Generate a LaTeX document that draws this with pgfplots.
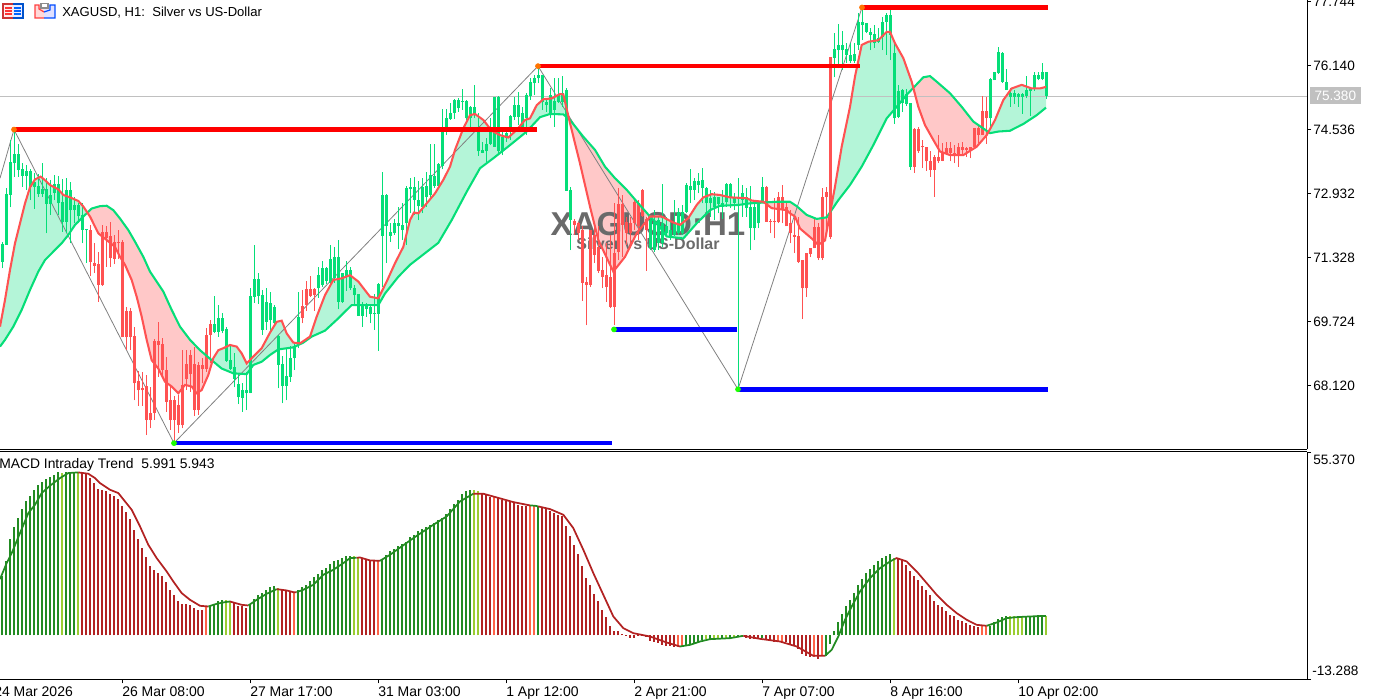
\documentclass[border=0pt]{standalone}
\usepackage{fontspec}
\setmainfont{Liberation Sans}
\usepackage{pgfplots}
\usepackage{pgfplotstable}
\pgfplotsset{compat=1.18}
\definecolor{cgreen}{HTML}{05DE78}
\definecolor{cred}{HTML}{FF5252}
\definecolor{fgreen}{HTML}{B4F5D8}
\definecolor{fred}{HTML}{FFC8C8}
\definecolor{mG}{HTML}{228B22}
\definecolor{mY}{HTML}{9ACD32}
\definecolor{mF}{HTML}{B22222}
\definecolor{mT}{HTML}{FF6347}
\definecolor{bid}{HTML}{C0C0C0}
\definecolor{wm}{HTML}{6A6A6A}

\pgfplotstableread{
i h t b l
0 71.73 71.67 71.23 71.06
1 73.07 72.92 71.65 71.65
2 74.28 73.73 72.91 72.59
3 74.54 73.93 73.69 73.36
4 74.19 73.93 73.53 73.36
5 73.69 73.55 73.38 73.11
6 73.65 73.51 73.38 73.02
7 73.54 73.51 73.11 72.77
8 73.44 73.23 73.11 72.56
9 73.43 73.12 72.92 72.86
10 73.69 73.04 72.92 72.86
11 73.32 73.04 72.67 71.94
12 73.27 72.90 72.67 72.40
13 73.40 73.17 72.96 72.77
14 73.38 73.17 72.69 72.40
15 73.31 72.73 72.23 71.98
16 73.32 73.02 72.23 71.94
17 73.23 73.02 72.52 71.69
18 72.86 72.65 72.52 72.19
19 72.69 72.65 72.37 72.19
20 72.71 72.40 72.03 71.69
21 72.04 72.04 72.01 71.20
53 70.37 69.67 69.47 69.43
54 70.14 69.81 69.47 69.35
55 69.93 69.81 69.50 69.43
56 69.58 69.54 68.75 68.72
57 69.14 68.76 68.55 68.51
58 68.93 68.60 68.30 68.08
59 68.43 68.16 67.83 67.66
60 68.18 68.00 67.82 67.47
61 68.47 68.00 67.93 67.51
62 70.58 70.37 67.93 67.93
63 71.65 70.79 70.35 70.20
64 70.95 70.79 70.37 70.18
65 70.52 70.39 69.52 69.39
66 70.56 70.23 69.72 69.52
67 70.48 70.20 69.77 69.43
68 70.14 70.08 69.70 69.64
69 69.39 69.37 68.64 68.05
70 68.87 68.66 68.11 67.68
71 69.06 68.36 68.11 67.75
72 69.11 68.81 68.35 68.22
73 69.18 69.11 68.81 68.51
74 70.48 69.85 69.14 69.06
79 71.10 70.89 70.56 70.33
80 71.24 71.06 70.64 70.59
81 71.10 71.08 70.75 70.67
82 71.65 71.29 70.69 70.62
83 71.60 71.35 70.81 70.70
84 71.77 71.34 70.23 70.03
85 70.94 70.94 70.23 70.20
86 71.25 71.02 70.85 70.50
87 71.10 71.02 70.56 70.52
88 70.64 70.56 70.39 70.18
89 70.43 70.43 69.87 69.87
90 70.23 70.14 69.87 69.60
91 70.20 70.16 70.04 69.85
92 70.14 70.10 69.92 69.68
93 70.43 69.93 69.91 69.52
94 70.69 70.67 69.92 69.00
95 73.48 72.90 71.87 70.60
96 72.92 72.90 72.11 71.19
97 72.19 71.98 71.88 71.73
98 72.29 72.19 71.94 71.90
99 72.61 72.21 72.12 71.54
100 72.69 72.16 72.02 71.77
101 73.12 73.07 72.19 71.65
102 73.32 73.09 73.04 72.44
103 73.34 73.11 72.77 72.40
104 73.26 72.77 72.62 72.27
105 73.32 73.09 72.61 72.44
106 73.48 73.12 72.84 72.61
107 74.18 73.40 72.90 72.82
108 74.18 73.38 73.12 73.07
109 73.71 73.68 73.12 73.11
110 75.05 74.49 73.63 73.54
111 75.05 74.82 74.57 74.40
112 75.20 74.95 74.80 74.78
113 75.30 75.28 74.95 74.80
114 75.32 75.28 75.07 74.99
115 75.55 75.26 75.25 75.03
116 75.28 75.26 74.82 74.78
117 75.13 75.11 74.82 74.57
118 75.66 75.11 74.90 74.82
119 74.95 74.57 73.99 73.88
120 74.24 74.03 73.96 73.94
121 74.34 74.18 73.99 73.73
122 74.82 74.57 74.18 74.15
123 75.36 75.35 74.11 74.11
124 75.38 75.35 73.99 73.96
125 74.57 74.36 73.99 73.90
126 74.61 74.45 74.34 74.24
127 74.90 74.88 74.57 74.28
128 75.36 75.15 74.86 74.78
129 75.47 75.15 74.86 74.65
130 75.11 74.95 74.57 74.49
131 75.45 75.41 74.82 74.40
132 75.82 75.72 75.38 75.28
133 75.91 75.82 75.70 75.41
134 76.13 75.91 75.82 75.70
135 75.91 75.91 75.24 75.03
136 75.28 75.24 75.15 74.99
137 75.57 75.41 74.90 74.82
138 75.82 75.26 75.03 74.61
139 75.82 75.41 75.24 75.20
140 75.88 75.45 75.24 75.11
141 75.57 75.53 73.01 73.01
142 73.11 73.03 72.27 71.52
162 72.40 72.27 71.56 71.52
163 72.52 72.23 71.52 71.48
164 72.36 72.27 71.69 71.52
165 73.18 72.19 71.69 71.60
166 72.36 72.11 71.94 71.86
167 72.19 72.02 71.86 71.77
168 72.77 72.19 71.90 71.86
169 72.57 72.48 71.94 71.90
170 72.65 72.48 71.94 71.90
171 73.19 73.15 72.48 72.44
172 73.54 73.12 73.03 72.69
173 73.32 73.26 73.03 72.77
174 73.44 73.26 73.15 72.94
175 73.57 73.28 73.07 72.69
176 73.11 73.07 72.69 72.44
177 73.03 72.82 72.69 72.36
178 72.98 72.84 72.61 72.27
179 72.86 72.84 72.67 72.44
180 73.03 72.69 72.61 72.31
181 73.19 73.18 72.73 72.61
182 73.19 73.18 72.82 72.57
183 72.94 72.84 72.69 72.52
184 73.32 72.86 72.79 68.05
185 73.15 72.94 72.77 72.36
186 73.07 72.86 72.57 72.36
187 73.12 72.59 72.06 71.52
188 72.77 72.59 72.06 71.77
189 72.73 72.69 72.19 72.06
190 73.34 73.11 72.73 72.73
208 76.95 76.55 76.33 75.85
209 77.19 76.66 76.53 76.07
210 77.02 76.66 76.53 76.03
211 76.72 76.55 76.41 76.20
212 76.70 76.41 76.27 76.20
213 76.72 76.43 76.27 76.20
214 77.47 77.24 76.66 76.53
215 77.62 77.24 77.16 76.78
216 77.20 77.20 76.99 76.95
217 77.08 76.99 76.91 76.53
218 77.16 76.93 76.70 76.58
219 77.08 76.83 76.74 76.70
220 77.37 77.24 76.87 76.53
221 77.45 77.41 77.24 76.41
222 77.54 77.41 76.91 76.28
223 76.70 76.45 74.82 74.68
224 75.66 75.51 74.85 74.82
225 75.55 75.53 75.20 74.99
226 75.55 75.43 75.18 75.13
227 75.20 75.20 73.61 73.53
247 75.82 75.80 74.82 74.53
248 75.97 75.97 75.78 75.78
249 76.62 76.49 75.95 75.93
250 76.49 76.47 75.74 75.71
251 76.05 75.74 75.53 75.53
252 75.57 75.45 75.35 75.11
253 75.53 75.45 75.36 75.18
254 75.45 75.43 75.36 75.11
255 75.45 75.43 75.36 74.93
256 75.88 75.53 75.39 75.32
257 75.57 75.57 75.51 74.88
258 75.99 75.91 75.57 75.51
259 75.97 75.91 75.80 75.77
260 76.20 75.99 75.80 75.77
261 75.99 75.99 75.38 75.31
}\greencandles

\pgfplotstableread{
i h t b l
22 72.15 72.02 71.22 70.87
23 71.69 71.19 71.13 70.94
24 71.48 71.17 70.64 70.23
25 72.15 71.96 70.64 70.62
26 72.12 71.98 71.81 71.10
27 72.23 71.87 71.31 71.10
28 71.90 71.73 71.29 71.17
29 72.03 71.71 71.69 71.29
30 71.77 71.71 69.33 69.33
31 70.08 70.00 69.33 69.01
32 70.06 70.00 69.33 69.01
33 69.60 69.37 68.18 67.75
34 68.50 68.24 68.00 67.62
35 68.47 68.05 68.00 67.62
36 68.39 68.10 67.26 66.88
37 68.08 67.44 67.26 67.05
38 69.28 69.23 67.43 67.26
39 69.72 69.25 69.14 68.35
40 69.31 69.16 68.51 68.35
41 68.85 68.51 67.72 67.47
42 68.10 67.75 67.26 67.01
43 67.85 67.75 67.26 66.68
44 67.89 67.64 67.13 66.94
45 69.01 68.14 67.13 67.05
46 69.01 68.66 68.28 68.01
47 69.01 68.89 68.41 67.97
48 69.10 68.66 67.51 67.36
49 68.72 68.64 67.51 67.39
50 68.81 68.64 68.53 68.18
51 69.56 69.39 68.55 68.47
52 69.77 69.67 69.39 68.68
75 70.52 70.12 69.81 69.68
76 70.75 70.54 70.14 70.00
77 70.87 70.55 70.37 70.35
78 70.56 70.55 70.40 70.00
143 72.29 72.26 72.15 71.90
144 72.23 72.19 71.94 71.77
145 72.11 72.02 70.70 70.25
146 70.85 70.73 70.64 69.63
147 72.02 72.02 70.64 70.59
148 72.19 71.90 71.40 71.19
149 72.11 71.60 71.00 70.94
150 71.35 71.02 70.85 70.56
151 71.69 70.89 70.60 70.23
152 71.90 70.85 70.10 70.06
153 72.69 71.44 70.10 69.63
154 73.07 72.67 71.48 71.27
155 72.90 72.67 72.15 71.35
156 72.36 72.23 71.94 71.65
157 72.36 72.19 71.94 71.65
158 72.77 72.73 72.19 72.02
159 72.77 72.69 72.11 71.77
160 73.04 73.03 72.37 72.36
161 72.36 72.29 72.02 71.00
191 73.12 73.11 72.23 72.23
192 72.29 72.26 72.22 71.94
193 72.82 72.26 72.23 71.81
194 72.98 72.84 72.23 72.19
195 73.15 72.84 72.52 72.19
196 72.69 72.59 72.11 72.11
197 72.52 72.19 71.94 71.69
198 72.36 71.90 71.85 71.44
199 72.36 71.87 71.23 71.19
200 71.27 71.27 70.56 69.79
201 71.45 71.44 70.56 70.34
202 71.56 71.56 71.42 71.34
203 72.31 72.09 71.56 71.56
204 72.19 72.09 71.31 71.27
205 73.08 72.84 71.31 71.27
206 73.11 72.98 72.84 71.90
207 76.35 76.35 71.84 71.79
228 74.57 74.55 73.61 73.46
229 74.61 74.55 73.99 73.96
230 74.28 74.13 74.09 73.57
231 74.11 74.11 73.74 73.51
232 73.99 73.74 73.53 73.36
233 73.90 73.86 73.53 72.86
234 74.40 73.86 73.74 73.69
235 74.20 73.96 73.76 73.74
236 74.24 74.07 73.93 73.90
237 74.24 74.07 73.94 73.74
238 74.15 73.94 73.90 73.69
239 74.20 74.09 73.93 73.61
240 74.24 74.09 74.03 73.90
241 74.11 74.07 74.03 73.86
242 74.11 74.09 73.99 73.82
243 74.57 74.57 74.11 74.07
244 74.65 74.57 74.40 74.20
245 75.38 75.01 74.40 74.40
246 75.36 75.01 74.82 74.18
}\redcandles

\pgfplotstableread{
i p
-0.5 69.60
0.75 70.27
2 71.02
3.25 71.69
4.5 72.19
5.75 72.69
7 73.09
8.25 73.29
9.67 73.36
10.75 73.27
12 73.15
14.08 73.04
15.33 72.90
17 72.84
19.08 72.75
20.33 72.61
22 72.36
24.08 71.94
26.17 71.77
28.25 71.60
29.5 71.35
30.75 71.15
32.42 70.77
33.67 70.35
34.92 69.85
36.17 69.27
37.42 68.76
39.08 68.55
40.75 68.22
42.42 68.10
44.08 67.93
45.75 68.14
47.42 68.10
48.67 67.93
49.92 68.01
51.58 68.39
52.83 68.81
54.08 69.01
55.33 69.06
57 69.14
58.67 69.10
59.92 68.93
61.17 68.68
62.83 68.85
64.92 69.06
67 69.45
68.67 69.72
69.92 69.75
71.17 69.43
72.83 69.20
74.5 69.18
77 69.35
78.67 69.85
80.75 70.39
82.83 70.77
84.92 70.81
87 70.89
89.08 70.73
92 70.35
94.08 70.31
96.17 70.73
98.25 71.19
100.33 71.60
102 72.27
103 72.46
104.08 72.44
106.17 72.69
108.25 72.94
110.33 73.28
112 73.61
113.25 74.03
115.33 74.57
117 74.90
118.25 74.93
120.33 74.78
122.42 74.51
124.5 74.40
126.58 74.34
128.67 74.53
130.75 74.78
132 74.82
133.67 75.15
135.33 75.30
137.42 75.32
139.5 75.43
140.33 75.42
142 74.70
144.5 73.69
147 72.61
149.08 71.77
152.83 70.98
155.75 71.35
158.67 71.94
162 72.36
164.92 72.36
167.83 72.21
169.5 72.15
171.58 72.32
173.67 72.65
175.33 72.84
177.42 72.92
179.5 72.90
182 72.84
186.17 72.82
187.42 72.76
190.33 72.73
192.42 72.57
196.17 72.52
197 72.44
198.25 72.36
199.5 72.06
202.42 71.81
204.08 71.65
205.75 71.76
207 72.44
208.25 73.11
209.92 74.11
212 75.11
213.25 75.87
214.92 76.66
216.58 76.74
219.08 76.78
221.17 76.99
222 76.99
223.25 76.70
225.33 76.33
227.42 75.74
229.08 75.11
230.75 74.65
232.83 74.28
234.5 73.99
237 73.90
240.33 73.90
243.67 74.11
246.17 74.40
248.25 74.78
250.33 75.28
252.42 75.57
254.92 75.66
257.42 75.57
259.5 75.57
261 75.61
}\fastma

\pgfplotstableread{
i p
-0.5 69.10
0.75 69.27
2.83 69.60
4.92 70.02
7 70.52
9.08 70.98
10.75 71.27
12.83 71.48
14.92 71.69
16.58 71.90
18.25 72.15
20.33 72.36
22.42 72.56
24.5 72.62
26.17 72.63
27.83 72.52
29.5 72.31
31.58 72.02
33.25 71.73
35.33 71.35
37 70.98
40.33 70.48
42.42 70.02
44.5 69.60
47 69.27
49.5 69.01
52.42 68.76
54.92 68.55
57.83 68.43
61.17 68.41
62.83 68.64
64.92 68.72
67 68.89
69.08 69.03
72.83 69.08
75.33 69.20
77.42 69.35
80.75 69.50
83.67 69.77
87.42 70.14
94.08 70.14
95.75 70.43
99.08 70.85
102 71.15
109.08 71.70
112.42 72.27
116.17 72.98
119.5 73.57
122.83 73.82
127 74.15
131.17 74.49
134.5 74.85
137 74.93
140.33 74.92
142 74.78
145.33 74.36
148.25 74.03
150.75 73.61
153.25 73.32
156.17 73.03
159.08 72.69
162 72.36
164.08 72.15
166.17 71.86
170.33 71.81
173.67 72.19
177 72.52
179.5 72.63
184.08 72.65
187 72.69
190.33 72.71
193.67 72.73
197 72.73
198.67 72.62
201.17 72.40
203.67 72.30
206.17 72.34
209.08 72.77
212 73.15
214.92 73.61
217.83 74.15
221.17 74.82
223.67 75.11
226.17 75.41
228.25 75.63
230.33 75.85
232 75.88
233.67 75.74
237 75.45
239.92 75.11
242.83 74.74
247 74.45
249.08 74.49
252 74.51
255.33 74.68
258.67 74.90
261 75.09
}\slowma

\begin{document}
\begin{tikzpicture}
\clip (0,0) rectangle (1031.25pt,525pt);

\begin{axis}[
  at={(0pt,187.875pt)}, anchor=south west, scale only axis,
  width=980.25pt, height=337.125pt,
  xmin=-0.5, xmax=326.25, ymin=66.521, ymax=77.787,
  axis x line*=bottom, axis y line*=right,
  xtick=\empty,
  ytick={68.12,69.724,71.328,72.932,74.536,76.14,77.744},
  yticklabels={68.120,69.724,71.328,72.932,74.536,76.140,77.744},
  tick align=outside, major tick length=3pt,
  axis line style={line width=0.75pt},
  tick style={line width=0.75pt,black},
  yticklabel style={font=\fontsize{10.2}{12}\selectfont, anchor=west, inner xsep=0pt, xshift=1.5pt},
]
% bands between the two moving averages, one closed polygon per regime
\addplot[fill=fgreen, draw=none, forget plot] coordinates {(-0.5,69.60)(0.75,70.27)(2,71.02)(3.25,71.69)(4.5,72.19)(5.75,72.69)(7,73.09)(8.25,73.29)(9.67,73.36)(10.75,73.27)(12,73.15)(14.08,73.04)(15.33,72.90)(17,72.84)(19.08,72.75)(20.33,72.61)(21.25,72.47)(20.33,72.36)(18.25,72.15)(16.58,71.90)(14.92,71.69)(12.83,71.48)(10.75,71.27)(9.08,70.98)(7,70.52)(4.92,70.02)(2.83,69.60)(0.75,69.27)(-0.5,69.10)};
\addplot[fill=fred, draw=none, forget plot] coordinates {(21.25,72.47)(22.42,72.56)(24.5,72.62)(26.17,72.63)(27.83,72.52)(29.5,72.31)(31.58,72.02)(33.25,71.73)(35.33,71.35)(37,70.98)(40.33,70.48)(42.42,70.02)(44.5,69.60)(47,69.27)(49.5,69.01)(52.5,68.76)(51.58,68.39)(49.92,68.01)(48.67,67.93)(47.42,68.10)(45.75,68.14)(44.08,67.93)(42.42,68.10)(40.75,68.22)(39.08,68.55)(37.42,68.76)(36.17,69.27)(34.92,69.85)(33.67,70.35)(32.42,70.77)(30.75,71.15)(29.5,71.35)(28.25,71.60)(26.17,71.77)(24.08,71.94)(22,72.36)};
\addplot[fill=fgreen, draw=none, forget plot] coordinates {(52.5,68.76)(52.83,68.81)(54.08,69.01)(55.33,69.06)(57,69.14)(58.67,69.10)(59.92,68.93)(61.17,68.68)(62.83,68.85)(64.92,69.06)(67,69.45)(68.67,69.72)(69.92,69.75)(71.17,69.43)(72.83,69.20)(74.5,69.18)(77,69.35)(78.67,69.85)(80.75,70.39)(82.83,70.77)(84.92,70.81)(87,70.89)(89.08,70.73)(92,70.35)(94.08,70.31)(96.17,70.73)(98.25,71.19)(100.33,71.60)(102,72.27)(103,72.46)(104.08,72.44)(106.17,72.69)(108.25,72.94)(110.33,73.28)(112,73.61)(113.25,74.03)(115.33,74.57)(117,74.90)(118.25,74.93)(120.33,74.78)(122.42,74.51)(124.5,74.40)(126.58,74.34)(128.67,74.53)(130.75,74.78)(132,74.82)(133.67,75.15)(135.33,75.30)(137.42,75.32)(139.5,75.43)(140.33,75.42)(141.75,74.82)(140.33,74.92)(137,74.93)(134.5,74.85)(131.17,74.49)(127,74.15)(122.83,73.82)(119.5,73.57)(116.17,72.98)(112.42,72.27)(109.08,71.70)(102,71.15)(99.08,70.85)(95.75,70.43)(94.08,70.14)(87.42,70.14)(83.67,69.77)(80.75,69.50)(77.42,69.35)(75.33,69.20)(72.83,69.08)(69.08,69.03)(67,68.89)(64.92,68.72)(62.83,68.64)(61.17,68.41)(57.83,68.43)(54.92,68.55)};
\addplot[fill=fred, draw=none, forget plot] coordinates {(141.75,74.82)(142,74.78)(145.33,74.36)(148.25,74.03)(150.75,73.61)(153.25,73.32)(156.17,73.03)(159.08,72.69)(161.5,72.38)(158.67,71.94)(155.75,71.35)(152.83,70.98)(149.08,71.77)(147,72.61)(144.5,73.69)(142,74.70)};
\addplot[fill=fgreen, draw=none, forget plot] coordinates {(161.5,72.38)(164.92,72.36)(167.83,72.21)(169.5,72.15)(171.58,72.32)(173.67,72.65)(175.33,72.84)(177.42,72.92)(179.5,72.90)(182,72.84)(186.17,72.82)(187.42,72.76)(190.33,72.73)(190.8,72.71)(187,72.69)(184.08,72.65)(179.5,72.63)(177,72.52)(173.67,72.19)(170.33,71.81)(166.17,71.86)(164.08,72.15)(162,72.36)};
\addplot[fill=fred, draw=none, forget plot] coordinates {(190.8,72.71)(193.67,72.73)(197,72.73)(198.67,72.62)(201.17,72.40)(203.67,72.30)(206.17,72.34)(207.1,72.46)(205.75,71.76)(204.08,71.65)(202.42,71.81)(199.5,72.06)(198.25,72.36)(197,72.44)(196.17,72.52)(192.42,72.57)};
\addplot[fill=fgreen, draw=none, forget plot] coordinates {(207.1,72.46)(208.25,73.11)(209.92,74.11)(212,75.11)(213.25,75.87)(214.92,76.66)(216.58,76.74)(219.08,76.78)(221.17,76.99)(222,76.99)(223.25,76.70)(225.33,76.33)(227.42,75.74)(227.6,75.58)(226.17,75.41)(223.67,75.11)(221.17,74.82)(217.83,74.15)(214.92,73.61)(212,73.15)(209.08,72.77)};
\addplot[fill=fred, draw=none, forget plot] coordinates {(227.6,75.58)(228.25,75.63)(230.33,75.85)(232,75.88)(233.67,75.74)(237,75.45)(239.92,75.11)(242.83,74.74)(246.6,74.45)(246.17,74.40)(243.67,74.11)(240.33,73.90)(237,73.90)(234.5,73.99)(232.83,74.28)(230.75,74.65)(229.08,75.11)};
\addplot[fill=fgreen, draw=none, forget plot] coordinates {(246.6,74.45)(248.25,74.78)(250.33,75.28)(252.42,75.57)(254.92,75.66)(257.42,75.57)(259.5,75.57)(261,75.61)(261,75.09)(258.67,74.90)(255.33,74.68)(252,74.51)(249.08,74.49)};

\node[font=\fontsize{24.8}{26}\selectfont\bfseries, text=wm] at (axis cs:161.5,72.17) {XAGUSD:H1};
\node[font=\fontsize{12}{14}\selectfont\bfseries, text=wm] at (axis cs:161.5,71.67) {Silver vs US-Dollar};

% bid line
\addplot[bid, line width=0.75pt, forget plot] coordinates {(-0.5,75.38)(326.25,75.38)};

% zigzag
\addplot[black!50, line width=0.6pt, forget plot] coordinates {(-0.5,73.32)(3,74.54)(43,66.68)(134,76.13)(184,68.03)(215,77.60)};

% candles: wicks and bodies
\addplot[draw=none, mark=none, forget plot, error bars/.cd, y dir=plus, y explicit, error mark=none,
  error bar style={cgreen, line width=0.75pt}]
  table[x=i, y=l, y error plus expr=\thisrow{h}-\thisrow{l}] {\greencandles};
\addplot[draw=none, mark=none, forget plot, error bars/.cd, y dir=plus, y explicit, error mark=none,
  error bar style={cgreen, line width=2.25pt}]
  table[x=i, y=b, y error plus expr=\thisrow{t}-\thisrow{b}] {\greencandles};
\addplot[draw=none, mark=none, forget plot, error bars/.cd, y dir=plus, y explicit, error mark=none,
  error bar style={cred, line width=0.75pt}]
  table[x=i, y=l, y error plus expr=\thisrow{h}-\thisrow{l}] {\redcandles};
\addplot[draw=none, mark=none, forget plot, error bars/.cd, y dir=plus, y explicit, error mark=none,
  error bar style={cred, line width=2.25pt}]
  table[x=i, y=b, y error plus expr=\thisrow{t}-\thisrow{b}] {\redcandles};

% moving averages
\addplot[cgreen, line width=1.55pt, forget plot] table[x=i,y=p] {\slowma};
\addplot[cred, line width=1.55pt, forget plot] table[x=i,y=p] {\fastma};

% pivots
\addplot[red, line width=3.4pt, forget plot] coordinates {(3,74.54)(133.67,74.54)};
\addplot[red, line width=3.4pt, forget plot] coordinates {(134,76.13)(214.6,76.13)};
\addplot[red, line width=3.4pt, forget plot] coordinates {(215,77.60)(261.6,77.60)};
\addplot[blue, line width=3.4pt, forget plot] coordinates {(43,66.68)(152.6,66.68)};
\addplot[blue, line width=3.4pt, forget plot] coordinates {(153,69.53)(183.7,69.53)};
\addplot[blue, line width=3.4pt, forget plot] coordinates {(184,68.03)(261.6,68.03)};
\addplot[only marks, mark=*, mark size=1.9pt, mark options={draw=orange!90!red, fill=orange!90!red}, forget plot]
  coordinates {(3,74.54)(134,76.13)(215,77.60)};
\addplot[only marks, mark=*, mark size=1.9pt, mark options={draw=green!85!lime, fill=green!85!lime}, forget plot]
  coordinates {(43,66.68)(153,69.53)(184,68.03)};
\addplot[only marks, mark=triangle*, mark size=2.4pt, mark options={draw=bid, fill=bid, rotate=180}, forget plot]
  coordinates {(261,77.80)};
\end{axis}

\begin{axis}[
  at={(0pt,15.47pt)}, anchor=south west, scale only axis,
  width=980.25pt, height=170.85pt,
  xmin=-0.5, xmax=326.25, ymin=-13.288, ymax=55.70,
  axis x line*=bottom, axis y line*=right,
  xtick={30,62,94,126,158,190,222,254},
  xticklabels={26 Mar 08:00,27 Mar 17:00,31 Mar 03:00,1 Apr 12:00,2 Apr 21:00,7 Apr 07:00,8 Apr 16:00,10 Apr 02:00},
  ytick={-13.288,55.37}, yticklabels={,},
  tick align=outside, major tick length=3pt,
  axis line style={line width=0.75pt},
  tick style={line width=0.75pt,black},
  xticklabel style={font=\fontsize{10.5}{12}\selectfont, anchor=north west, inner xsep=0pt, inner ysep=0pt, yshift=-2.5pt},
]
\addplot[ycomb, mG, line width=2.2pt, forget plot] coordinates {
(0,17.88)(1,22.42)(2,29.29)(3,32.83)(4,35.55)(5,38.38)(6,40.60)(7,42.32)(8,44.14)(9,45.45)(10,46.46)(11,47.37)(12,47.98)(13,48.68)(14,49.49)(16,49.49)(17,49.49)(18,49.49)
(52,8.99)(53,9.60)(54,10.50)(55,10.81)
(62,9.29)(63,11.11)(64,12.32)(65,12.83)(66,13.64)(67,14.54)(68,15.05)
(74,13.64)(75,14.65)(76,15.35)(77,16.56)(78,17.68)(79,18.69)(80,19.90)(81,20.40)(82,21.72)(83,22.42)(84,22.73)(85,23.43)(86,23.94)(87,23.94)
(95,23.13)(96,24.44)(97,25.45)(98,26.16)(99,26.97)(100,27.67)(101,28.28)(102,29.80)(103,30.50)(104,31.51)(105,32.22)(106,32.83)(107,33.53)(108,34.04)(109,34.85)(110,35.55)(111,36.87)(112,38.28)(113,39.90)(114,41.11)(115,42.93)(116,43.63)(117,43.94)
(134,39.29)
(171,-2.83)(172,-2.83)(173,-2.63)(174,-2.12)(175,-1.31)(177,-1.01)(180,-0.81)(182,-0.61)(184,-0.30)(190,-0.81)
(206,-6.36)(207,-2.53)(208,1.21)(209,4.04)(210,6.57)(211,8.99)(212,10.81)(213,12.83)(214,15.35)(215,17.07)(216,18.89)(217,20.20)(218,21.41)(219,22.42)(220,23.43)(221,24.14)(222,24.64)
(247,2.93)(248,4.04)(249,4.95)(250,5.56)(251,5.76)(256,5.76)(257,5.76)(258,5.96)(259,6.06)(260,6.26)
};
\addplot[ycomb, mY, line width=2.2pt, forget plot] coordinates {
(15,49.19)(19,49.49)(56,10.81)(57,10.30)(69,14.34)(88,24.14)(89,23.74)(118,44.14)(119,43.63)
(176,-1.01)(178,-0.81)(179,-0.81)(181,-0.81)(183,-0.61)(185,-0.30)
(223,23.43)(252,5.96)(253,5.96)(254,5.56)(255,5.56)(261,5.99)
};
\addplot[ycomb, mF, line width=2.2pt, forget plot] coordinates {
(20,49.39)(21,48.99)(22,47.67)(23,46.16)(24,44.44)(25,43.94)(26,43.63)(27,42.93)(28,42.12)(29,41.31)(30,39.09)(31,37.27)(32,35.25)(33,32.02)(34,29.19)(35,26.46)(36,23.74)(37,20.91)(38,19.90)(39,18.89)(40,17.88)(41,16.06)(42,13.84)(43,12.32)(44,10.50)(45,9.60)(46,9.60)(47,9.29)(48,8.28)(49,7.78)(50,7.78)
(58,9.80)(59,8.99)(60,8.79)(61,8.28)
(70,13.84)(71,13.53)(72,13.33)
(90,23.43)(91,23.13)(92,22.73)(93,22.62)
(120,42.93)(121,42.82)(122,41.92)(124,41.61)(125,40.91)(126,40.60)(127,40.30)(128,40.30)(129,39.59)(130,39.29)(131,39.09)
(135,38.89)(136,38.28)(137,37.57)(138,37.07)(139,36.56)(140,36.06)(141,33.23)(142,30.20)(143,27.47)(144,24.75)(145,21.11)(146,17.37)(147,15.35)(148,12.63)(149,10.30)(150,7.78)(151,5.45)(152,2.73)(153,1.41)(154,1.41)(155,0.51)(156,0.20)(157,-0.61)(158,-0.61)(159,-0.10)(160,-0.05)(161,-0.51)(162,-1.62)(163,-2.02)(164,-2.32)(165,-2.83)(166,-3.13)(167,-3.13)(168,-3.54)
(186,-0.81)(187,-1.01)(188,-1.11)(189,-1.11)(191,-1.11)(192,-1.52)(193,-1.82)(196,-2.12)(197,-2.53)(198,-2.83)(199,-4.04)(200,-5.56)(201,-6.36)(202,-6.57)(204,-7.17)
(224,23.43)(225,22.93)(226,21.41)(227,19.39)(228,18.08)(229,16.67)(230,15.05)(231,13.64)(232,12.12)(233,10.50)(234,9.29)(235,8.59)(236,7.47)(237,6.26)(238,5.76)(239,4.75)(240,4.24)(241,3.74)(242,3.23)(243,2.73)(244,2.53)
};
\addplot[ycomb, mT, line width=2.2pt, forget plot] coordinates {
(51,8.59)(73,13.03)(94,22.42)(123,42.12)(132,39.09)(133,39.09)(169,-3.54)(170,-3.03)(194,-2.12)(195,-2.12)(203,-6.57)(205,-6.36)(245,2.73)(246,2.73)
};

% signal line
\addplot[sharp plot, mG, line width=1.3pt, forget plot] coordinates {(-0.5,17.07)(1.17,21.92)(2.5,25.15)(4.5,31.01)(6.58,37.07)(8.25,39.59)(9.92,43.13)(12,45.35)(14.5,47.67)(16.58,49.19)(19.08,49.39)};
\addplot[sharp plot, mF, line width=1.3pt, forget plot] coordinates {(19.08,49.39)(21.58,48.99)(23.25,47.67)(24.5,46.16)(27,44.14)(29.08,43.13)(30.75,40.60)(32.42,38.08)(34.5,33.03)(36.58,27.47)(38.67,23.43)(41.17,19.39)(42.83,16.36)(44.92,12.83)(47,10.81)(49.5,8.99)(51.58,8.79)};
\addplot[sharp plot, mG, line width=1.3pt, forget plot] coordinates {(51.58,8.79)(53.67,9.60)(55.75,10.10)(57,10.30)};
\addplot[sharp plot, mF, line width=1.3pt, forget plot] coordinates {(57,10.30)(57.83,10.00)(59.92,9.29)(61.58,9.09)};
\addplot[sharp plot, mG, line width=1.3pt, forget plot] coordinates {(61.58,9.09)(63.67,10.81)(66.17,12.63)(68.67,14.04)};
\addplot[sharp plot, mF, line width=1.3pt, forget plot] coordinates {(68.67,14.04)(71.17,13.64)(72.83,13.13)(73.67,13.13)};
\addplot[sharp plot, mG, line width=1.3pt, forget plot] coordinates {(73.67,13.13)(75.33,13.84)(77.83,15.35)(80.33,18.38)(82.83,19.90)(85.33,21.92)(87,23.43)(88.67,23.53)};
\addplot[sharp plot, mF, line width=1.3pt, forget plot] coordinates {(88.67,23.53)(89.5,23.63)(92,22.73)(94.5,22.62)};
\addplot[sharp plot, mG, line width=1.3pt, forget plot] coordinates {(94.5,22.62)(97,24.44)(102.83,29.49)(107.83,33.53)(111.17,36.06)(114.5,40.60)(117.83,42.93)};
\addplot[sharp plot, mF, line width=1.3pt, forget plot] coordinates {(117.83,42.93)(120.33,42.93)(123.67,41.81)(127.83,40.40)(132,39.39)};
\addplot[sharp plot, mG, line width=1.3pt, forget plot] coordinates {(132,39.39)(133.25,39.29)(134.08,39.09)};
\addplot[sharp plot, mF, line width=1.3pt, forget plot] coordinates {(134.08,39.09)(137,38.28)(140.33,36.56)(142.83,32.52)(145.33,25.96)(147.83,18.89)(150.33,12.32)(152.83,5.76)(155.33,2.22)(157.83,0.71)(162,-0.30)(166.17,-2.12)(169.5,-3.33)};
\addplot[sharp plot, mG, line width=1.3pt, forget plot] coordinates {(169.5,-3.33)(172,-2.83)(174.5,-1.82)(177,-1.11)(182,-0.81)(185.33,-0.10)};
\addplot[sharp plot, mF, line width=1.3pt, forget plot] coordinates {(185.33,-0.10)(189.5,-1.01)(194.5,-1.82)(198.67,-3.33)(202.83,-6.16)(205.75,-6.16)};
\addplot[sharp plot, mG, line width=1.3pt, forget plot] coordinates {(205.75,-6.16)(207.42,-4.34)(209.08,-0.30)(210.75,4.75)(212.42,8.79)(214.5,13.33)(217,17.37)(219.5,20.40)(222,22.42)(223.25,23.23)};
\addplot[sharp plot, mF, line width=1.3pt, forget plot] coordinates {(223.25,23.23)(223.67,23.43)(226.17,22.42)(228.67,19.39)(231.17,15.86)(233.67,12.32)(236.17,9.29)(238.67,6.77)(241.17,4.75)(243.67,3.23)(246.17,2.93)};
\addplot[sharp plot, mG, line width=1.3pt, forget plot] coordinates {(246.17,2.93)(248.67,3.94)(251.17,5.25)(253.67,5.56)(257,5.76)(261,5.943)};
\end{axis}

% annotations, in pixel coordinates of the reference
\begin{scope}[x=0.75pt,y=-0.75pt,shift={(0pt,525pt)}]
\draw[line width=0.75pt] (0,451.5) -- (1307,451.5);
\node[font=\fontsize{10.5}{12}\selectfont, anchor=north west, inner sep=0pt] at (-6,686) {24 Mar 2026};
\node[font=\fontsize{10.2}{12}\selectfont, anchor=west, inner sep=0pt] at (1313,460) {55.370};
\node[font=\fontsize{10.2}{12}\selectfont, anchor=west, inner sep=0pt] at (1312,671) {-13.288};
\node[fill=bid, text=white, font=\fontsize{10.2}{12}\selectfont, minimum width=38.5pt, minimum height=12.75pt, inner sep=0pt] at (1335.3,95.5) {75.380};
\node[font=\fontsize{9.8}{12}\selectfont, anchor=west, inner sep=0pt] at (62,12.5) {XAGUSD, H1:\ \ Silver vs US-Dollar};
\node[font=\fontsize{10.4}{12}\selectfont, anchor=west, inner sep=0pt] at (-1,464.5) {MACD Intraday Trend\ \ 5.991 5.943};
% window icons
\fill[red!8] (3,4) rectangle (13,18);
\fill[blue!8] (13,4) rectangle (23,18);
\draw[red!75!black!80, line width=0.9pt] (13,4) -- (3,4) -- (3,18) -- (13,18);
\draw[blue!60!cyan!80!black, line width=0.9pt] (13,4) -- (23,4) -- (23,18) -- (13,18);
\draw[red!80, line width=0.9pt] (5,8) -- (12,8) (5,11) -- (12,11) (5,14) -- (12,14);
\draw[blue!60!cyan, line width=0.9pt] (14,8) -- (21,8) (14,11) -- (21,11) (14,14) -- (21,14);
\fill[red!15] (35,5) rectangle (44,18);
\fill[blue!12] (44,5) rectangle (55,18);
\draw[red!75, line width=0.9pt] (44,18) -- (35,18) -- (35,5) -- (39,5) -- (39,9) -- (44,12);
\draw[blue!70!cyan, line width=0.9pt] (44,18) -- (55,18) -- (55,5) -- (50,5) -- (50,10) -- (44,12);
\draw[black!45, line width=0.9pt, fill=white] (41,3.5) rectangle (48,8);
\end{scope}
\end{tikzpicture}
\end{document}
